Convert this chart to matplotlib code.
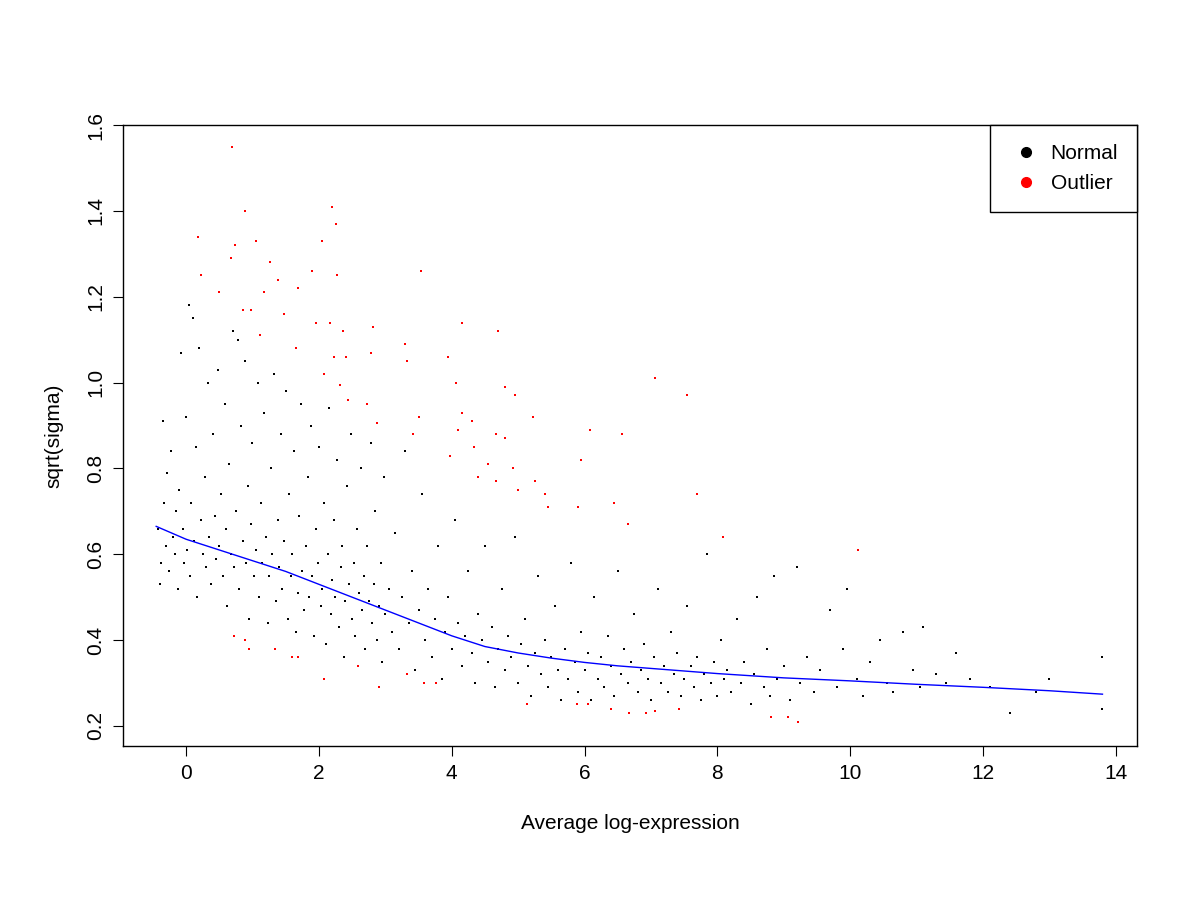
"""Mean-variance trend: sqrt(sigma) vs average log-expression."""

import matplotlib
matplotlib.use("Agg")
import matplotlib.pyplot as plt
from matplotlib.lines import Line2D

plt.rcParams["font.family"] = ["Liberation Sans", "DejaVu Sans"]

# black (normal) genes, hand-read (x, y) pairs
normal_pts = [
    (-0.42, 0.66), (-0.4, 0.53), (-0.38, 0.58), (-0.35, 0.91), (-0.33, 0.72), (-0.3, 0.62),
    (-0.28, 0.79), (-0.25, 0.56), (-0.22, 0.84), (-0.2, 0.64), (-0.17, 0.6), (-0.15, 0.7),
    (-0.12, 0.52), (-0.1, 0.75), (-0.08, 1.07), (-0.05, 0.66), (-0.03, 0.58), (0.0, 0.92),
    (0.02, 0.61), (0.04, 1.18), (0.06, 0.55), (0.08, 0.72), (0.1, 1.15), (0.12, 0.63),
    (0.15, 0.85), (0.17, 0.5), (0.2, 1.08), (0.22, 0.68), (0.25, 0.6), (0.28, 0.78),
    (0.3, 0.57), (0.33, 1.0), (0.35, 0.64), (0.38, 0.53), (0.4, 0.88), (0.43, 0.69),
    (0.45, 0.59), (0.48, 1.03), (0.5, 0.62), (0.52, 0.74), (0.55, 0.55), (0.58, 0.95),
    (0.6, 0.66), (0.62, 0.48), (0.65, 0.81), (0.68, 0.6), (0.7, 1.12), (0.72, 0.57),
    (0.75, 0.7), (0.78, 1.1), (0.8, 0.52), (0.82, 0.9), (0.85, 0.63), (0.88, 1.05),
    (0.9, 0.58), (0.93, 0.76), (0.95, 0.45), (0.98, 0.67), (1.0, 0.86), (1.03, 0.55),
    (1.05, 0.61), (1.08, 1.0), (1.1, 0.5), (1.13, 0.72), (1.15, 0.58), (1.18, 0.93),
    (1.2, 0.64), (1.23, 0.44), (1.25, 0.55), (1.28, 0.8), (1.3, 0.6), (1.33, 1.02),
    (1.35, 0.49), (1.38, 0.68), (1.4, 0.57), (1.43, 0.88), (1.45, 0.52), (1.48, 0.63),
    (1.5, 0.98), (1.53, 0.45), (1.55, 0.74), (1.58, 0.55), (1.6, 0.6), (1.63, 0.84),
    (1.65, 0.42), (1.68, 0.51), (1.7, 0.69), (1.73, 0.95), (1.75, 0.56), (1.78, 0.47),
    (1.8, 0.62), (1.83, 0.78), (1.85, 0.5), (1.88, 0.9), (1.9, 0.55), (1.93, 0.41),
    (1.95, 0.66), (1.98, 0.58), (2.0, 0.85), (2.03, 0.48), (2.05, 0.52), (2.08, 0.72),
    (2.1, 0.39), (2.13, 0.6), (2.15, 0.94), (2.18, 0.46), (2.2, 0.54), (2.23, 0.68),
    (2.25, 0.5), (2.28, 0.82), (2.3, 0.43), (2.33, 0.57), (2.35, 0.62), (2.38, 0.36),
    (2.4, 0.49), (2.43, 0.76), (2.45, 0.53), (2.48, 0.88), (2.5, 0.45), (2.53, 0.58),
    (2.55, 0.41), (2.58, 0.66), (2.6, 0.51), (2.63, 0.8), (2.65, 0.47), (2.68, 0.55),
    (2.7, 0.38), (2.73, 0.62), (2.75, 0.49), (2.78, 0.86), (2.8, 0.44), (2.83, 0.53),
    (2.85, 0.7), (2.88, 0.4), (2.9, 0.48), (2.93, 0.58), (2.95, 0.35), (2.98, 0.78),
    (3.0, 0.46), (3.05, 0.52), (3.1, 0.42), (3.15, 0.65), (3.2, 0.38), (3.25, 0.5),
    (3.3, 0.84), (3.35, 0.44), (3.4, 0.56), (3.45, 0.33), (3.5, 0.47), (3.55, 0.74),
    (3.6, 0.4), (3.65, 0.52), (3.7, 0.36), (3.75, 0.45), (3.8, 0.62), (3.85, 0.31),
    (3.9, 0.42), (3.95, 0.5), (4.0, 0.38), (4.05, 0.68), (4.1, 0.44), (4.15, 0.34),
    (4.2, 0.41), (4.25, 0.56), (4.3, 0.37), (4.35, 0.3), (4.4, 0.46), (4.45, 0.4),
    (4.5, 0.62), (4.55, 0.35), (4.6, 0.43), (4.65, 0.29), (4.7, 0.38), (4.75, 0.52),
    (4.8, 0.33), (4.85, 0.41), (4.9, 0.36), (4.95, 0.64), (5.0, 0.3), (5.05, 0.39),
    (5.1, 0.45), (5.15, 0.34), (5.2, 0.27), (5.25, 0.37), (5.3, 0.55), (5.35, 0.32),
    (5.4, 0.4), (5.45, 0.29), (5.5, 0.36), (5.55, 0.48), (5.6, 0.33), (5.65, 0.26),
    (5.7, 0.38), (5.75, 0.31), (5.8, 0.58), (5.85, 0.35), (5.9, 0.28), (5.95, 0.42),
    (6.0, 0.33), (6.05, 0.37), (6.1, 0.26), (6.15, 0.5), (6.2, 0.31), (6.25, 0.36),
    (6.3, 0.29), (6.35, 0.41), (6.4, 0.34), (6.45, 0.27), (6.5, 0.56), (6.55, 0.32),
    (6.6, 0.38), (6.65, 0.3), (6.7, 0.35), (6.75, 0.46), (6.8, 0.28), (6.85, 0.33),
    (6.9, 0.39), (6.95, 0.31), (7.0, 0.26), (7.05, 0.36), (7.1, 0.52), (7.15, 0.3),
    (7.2, 0.34), (7.25, 0.28), (7.3, 0.42), (7.35, 0.32), (7.4, 0.37), (7.45, 0.27),
    (7.5, 0.31), (7.55, 0.48), (7.6, 0.34), (7.65, 0.29), (7.7, 0.36), (7.75, 0.26),
    (7.8, 0.32), (7.85, 0.6), (7.9, 0.3), (7.95, 0.35), (8.0, 0.27), (8.05, 0.4),
    (8.1, 0.31), (8.15, 0.33), (8.2, 0.28), (8.3, 0.45), (8.35, 0.3), (8.4, 0.35),
    (8.5, 0.25), (8.55, 0.32), (8.6, 0.5), (8.7, 0.29), (8.75, 0.38), (8.8, 0.27),
    (8.85, 0.55), (8.9, 0.31), (9.0, 0.34), (9.1, 0.26), (9.2, 0.57), (9.25, 0.3),
    (9.35, 0.36), (9.45, 0.28), (9.55, 0.33), (9.7, 0.47), (9.8, 0.29), (9.9, 0.38),
    (9.95, 0.52), (10.1, 0.31), (10.2, 0.27), (10.3, 0.35), (10.45, 0.4), (10.55, 0.3),
    (10.65, 0.28), (10.8, 0.42), (10.95, 0.33), (11.05, 0.29), (11.1, 0.43), (11.3, 0.32),
    (11.45, 0.3), (11.6, 0.37), (11.8, 0.31), (12.1, 0.29), (12.4, 0.23), (12.8, 0.28),
    (13.0, 0.31), (13.8, 0.36), (13.8, 0.24),
]

# red (outlier) genes
outlier_x = [0.69, 0.89, 0.18, 0.74, 1.06, 2.19, 2.04, 0.68, 0.23, 1.27, 1.39, 2.26, 2.28,
             3.54, 1.90, 0.50, 1.18, 1.69, 0.86, 0.98, 1.48, 1.96, 2.17, 2.81, 4.16, 1.12,
             2.37, 4.69, 1.66, 3.29, 2.23, 2.41, 3.32, 3.95, 2.78, 2.07, 2.32, 4.07, 4.80,
             7.06, 4.96, 7.54, 2.73, 2.44, 4.16, 3.51, 5.22, 4.30, 4.09, 6.09, 6.56, 2.87,
             3.42, 4.67, 4.80, 4.33, 3.97, 5.95, 4.55, 4.93, 4.40, 4.66, 5.25, 5.00, 5.40,
             7.69, 5.45, 5.90, 6.44, 6.65, 8.08, 10.12, 0.72, 0.89, 0.95, 1.34, 1.60, 1.69,
             2.07, 2.90, 2.59, 3.33, 3.59, 3.77, 5.14, 5.88, 6.06, 6.40, 6.67, 6.92, 7.06,
             7.42, 8.81, 9.22, 9.06]
outlier_y = [1.55, 1.40, 1.34, 1.32, 1.33, 1.41, 1.33, 1.29, 1.25, 1.28, 1.24, 1.37, 1.25,
             1.26, 1.26, 1.21, 1.21, 1.22, 1.17, 1.17, 1.16, 1.14, 1.14, 1.13, 1.14, 1.11,
             1.12, 1.12, 1.08, 1.09, 1.06, 1.06, 1.05, 1.06, 1.07, 1.02, 0.995, 1.00, 0.99,
             1.01, 0.97, 0.97, 0.95, 0.96, 0.93, 0.92, 0.92, 0.91, 0.89, 0.89, 0.88, 0.905,
             0.88, 0.88, 0.87, 0.85, 0.83, 0.82, 0.81, 0.80, 0.78, 0.77, 0.77, 0.75, 0.74,
             0.74, 0.71, 0.71, 0.72, 0.67, 0.64, 0.61, 0.41, 0.40, 0.38, 0.38, 0.36, 0.36,
             0.31, 0.29, 0.34, 0.32, 0.30, 0.30, 0.25, 0.25, 0.25, 0.24, 0.23, 0.23, 0.235,
             0.24, 0.22, 0.21, 0.22]

# fitted trend
trend_x = [-0.45, 0, 0.5, 1, 1.5, 2, 2.5, 3, 3.5, 4, 4.5, 5, 5.5, 6, 6.5, 7, 7.5, 8,
           9, 10, 11, 12, 13, 13.8]
trend_y = [0.665, 0.635, 0.61, 0.585, 0.56, 0.53, 0.50, 0.47, 0.44, 0.41, 0.385, 0.37,
           0.358, 0.348, 0.34, 0.334, 0.328, 0.322, 0.312, 0.305, 0.297, 0.29, 0.282, 0.274]

fig = plt.figure(figsize=(12, 9), dpi=100)
ax = fig.add_axes([0.1025, 0.171, 0.845, 0.69])

nx = [p[0] for p in normal_pts]
ny = [p[1] for p in normal_pts]
ax.scatter(nx, ny, s=4, c="black", marker="s", linewidths=0)
ax.scatter(outlier_x, outlier_y, s=4, c="red", marker="s", linewidths=0)
ax.plot(trend_x, trend_y, color="blue", linewidth=1)

ax.set_xlim(-0.95, 14.32)
ax.set_ylim(0.153, 1.598)
ax.set_xticks(range(0, 15, 2))
ax.set_yticks([0.2, 0.4, 0.6, 0.8, 1.0, 1.2, 1.4, 1.6])
ax.set_yticklabels(["0.2", "0.4", "0.6", "0.8", "1.0", "1.2", "1.4", "1.6"],
                   rotation=90, va="center")
ax.tick_params(labelsize=15, length=7, direction="out", pad=6)
for s in ax.spines.values():
    s.set_linewidth(1)
ax.set_xlabel("Average log-expression", fontsize=15, labelpad=22)
ax.set_ylabel("sqrt(sigma)", fontsize=15, labelpad=16)

handles = [Line2D([], [], marker="o", ls="", color="black", markersize=7),
           Line2D([], [], marker="o", ls="", color="red", markersize=7)]
leg = ax.legend(handles, ["Normal", "Outlier"], loc="upper right", fontsize=15,
                fancybox=False, framealpha=1, edgecolor="black", borderaxespad=0,
                handletextpad=0.4, handlelength=1.6, borderpad=0.9, labelspacing=0.55)
leg.get_frame().set_linewidth(1)

fig.savefig("out.png", dpi=100)
